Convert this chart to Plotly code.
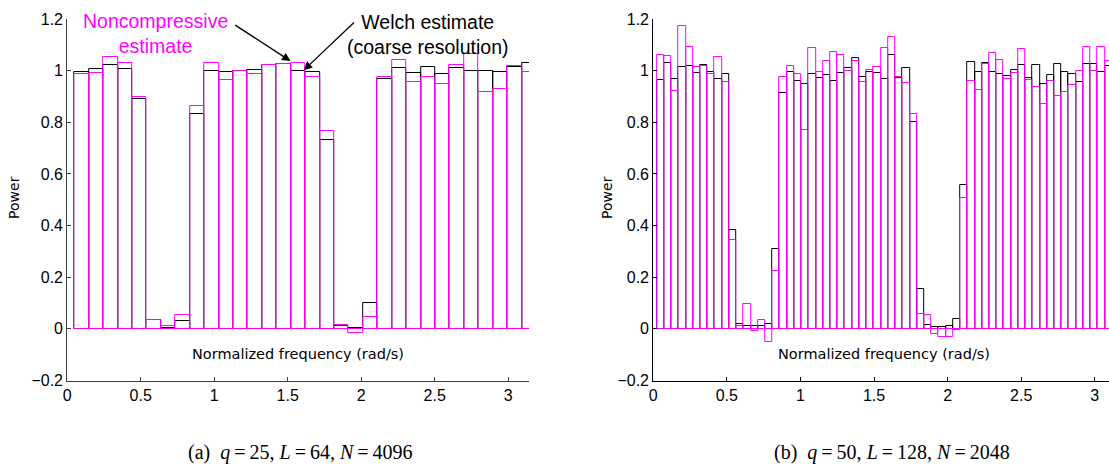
import numpy as np
import plotly.graph_objects as go

# Power spectrum estimates per frequency bin, bins centred at k*pi/M (k = 1..)
# (a) M = 32 bins
welch_a = [0.995, 1.008, 1.022, 1.006, 0.892, 0.035, 0.005, 0.031, 0.831, 0.997,
           0.994, 0.997, 1.001, 1.021, 1.027, 0.999, 0.995, 0.732, 0.012, 0.003,
           0.100, 0.967, 1.012, 0.992, 1.015, 0.988, 1.012, 1.000, 1.000, 0.995,
           1.015, 1.028]
noncomp_a = [0.988, 0.991, 1.051, 1.029, 0.899, 0.036, 0.010, 0.053, 0.862, 1.029,
             0.963, 0.999, 0.986, 1.020, 1.026, 1.029, 0.977, 0.768, 0.014, -0.015,
             0.046, 0.976, 1.041, 0.955, 0.977, 0.947, 1.021, 1.065, 0.919, 0.928,
             1.019, 0.995]

# (b) M = 64 bins (bins shown up to the right edge)
welch_b = [0.962, 1.028, 0.968, 1.015, 1.017, 0.992, 1.023, 0.995, 0.967, 0.986,
           0.381, 0.020, 0.010, 0.010, 0.010, 0.020, 0.310, 0.912, 0.995, 0.958,
           0.950, 0.986, 0.973, 0.982, 0.959, 0.991, 1.011, 1.048, 0.976, 0.994,
           0.991, 0.968, 1.059, 0.972, 1.009, 0.800, 0.153, 0.014, 0.008, 0.008,
           0.010, 0.038, 0.558, 1.034, 0.995, 1.031, 0.995, 0.988, 0.981, 1.001,
           1.023, 0.971, 1.020, 0.949, 0.983, 1.025, 0.996, 0.986, 0.957, 1.027,
           1.027, 0.995, 1.019]
noncomp_b = [1.061, 1.055, 0.921, 1.171, 1.093, 1.013, 1.019, 0.987, 1.051, 0.955,
             0.344, 0.010, 0.097, -0.008, 0.033, -0.051, 0.224, 0.975, 1.017, 0.986,
             0.771, 1.088, 0.996, 1.038, 1.073, 1.061, 0.997, 1.039, 0.955, 1.004,
             1.013, 1.089, 1.130, 0.975, 0.952, 0.832, 0.057, 0.055, -0.019, -0.032,
             -0.031, -0.003, 0.507, 0.960, 0.926, 1.024, 1.068, 1.041, 0.968, 0.991,
             1.084, 0.963, 0.935, 0.871, 0.958, 0.902, 0.918, 0.944, 0.997, 1.090,
             0.997, 1.093, 1.036]

bins_a = 32
bins_b = 64

x_ticks = [0, 0.5, 1, 1.5, 2, 2.5, 3]
y_ticks = [-0.2, 0, 0.2, 0.4, 0.6, 0.8, 1, 1.2]
y_ticklabels = ["\u22120.2", "0", "0.2", "0.4", "0.6", "0.8", "1", "1.2"]

BLACK = "#000000"
MAGENTA = "#FF00FF"
SANS = "Liberation Sans, Arial, Helvetica, sans-serif"
WIDE = "DejaVu Sans, Verdana, sans-serif"
SERIF = "Liberation Serif, Times New Roman, serif"

W, H = 1109, 468

# drawing area of the figure as it appears in the page (pixels)
PAPER_X0, PAPER_W = 3.5, 1105.0
PAPER_Y0, PAPER_H = 9.0, 450.0


def px(xp):
    return (xp - PAPER_X0) / PAPER_W


def py(yp):
    return 1 - (yp - PAPER_Y0) / PAPER_H


def centres(n_vals, n_bins):
    return np.arange(1, n_vals + 1) * np.pi / n_bins


def outline_bars(x, y, color, width, xa, ya, name):
    return go.Bar(
        x=x, y=y, width=width, name=name, xaxis=xa, yaxis=ya,
        marker=dict(color="rgba(0,0,0,0)", line=dict(color=color, width=1)),
        showlegend=False, hoverinfo="skip",
    )


fig = go.Figure()
xa_ = centres(len(welch_a), bins_a)
xb_ = centres(len(welch_b), bins_b)
fig.add_trace(outline_bars(xa_, welch_a, BLACK, np.pi / bins_a, "x", "y", "Welch"))
fig.add_trace(outline_bars(xa_, noncomp_a, MAGENTA, np.pi / bins_a, "x", "y", "Noncompressive"))
fig.add_trace(outline_bars(xb_, welch_b, BLACK, np.pi / bins_b, "x2", "y2", "Welch"))
fig.add_trace(outline_bars(xb_, noncomp_b, MAGENTA, np.pi / bins_b, "x2", "y2", "Noncompressive"))

# axes boxes (pixels)
left_x0, left_x1 = 66.7, 528.5
right_x0 = 652.7
px_per_unit = 147.2
top_px, bot_px = 20.0, 380.7
right_end = PAPER_X0 + PAPER_W

axis_common = dict(
    showgrid=False, zeroline=False, showline=True, ticks="inside", ticklen=4,
    tickfont=dict(family=SANS, size=16, color="#000"),
)

fig.update_layout(
    width=W, height=H, autosize=False,
    margin=dict(l=0, r=0, t=0, b=0),
    paper_bgcolor="white", plot_bgcolor="white",
    barmode="overlay", bargap=0,
    xaxis=dict(domain=[px(left_x0), px(left_x1)], range=[0, np.pi],
               tickvals=x_ticks, linecolor="#404040", tickcolor="#404040",
               anchor="y", **axis_common),
    yaxis=dict(domain=[py(bot_px), py(top_px)], range=[-0.2, 1.2],
               tickvals=y_ticks, ticktext=y_ticklabels, linecolor="#404040",
               tickcolor="#404040", anchor="x", **axis_common),
    xaxis2=dict(domain=[px(right_x0), 1.0],
                range=[0, (right_end - right_x0) / px_per_unit],
                tickvals=x_ticks, linecolor="#000", tickcolor="#000",
                anchor="y2", **axis_common),
    yaxis2=dict(domain=[py(bot_px), py(top_px)], range=[-0.2, 1.2],
                tickvals=y_ticks, ticktext=y_ticklabels, linecolor="#000",
                tickcolor="#000", anchor="x2", **axis_common),
)

ann = []


def text(x, y, s, size=14, color="#000", family=SANS, angle=0):
    ann.append(dict(x=px(x), y=py(y), xref="paper", yref="paper", text=s,
                    showarrow=False, textangle=angle, xanchor="center",
                    yanchor="middle", font=dict(family=family, size=size, color=color)))


# axis titles
text(14, 198, "Power", 14, family=WIDE, angle=-90)
text(607, 198, "Power", 14, family=WIDE, angle=-90)
text(297, 354, "Normalized frequency (rad/s)", 14.5, family=WIDE)
text(884, 354, "Normalized frequency (rad/s)", 14.5, family=WIDE)

# callouts
text(155, 34, "Noncompressive<br>estimate", 19.5, MAGENTA)
text(427, 35, "Welch estimate<br>(coarse resolution)", 19.5)

# arrows pointing at the bars
for head, tail in [((290.0, 62.0), (233.3, 25.0)), ((303.3, 71.0), (355.0, 22.0))]:
    ann.append(dict(x=px(head[0]), y=py(head[1]), xref="paper", yref="paper",
                    ax=tail[0] - head[0], ay=tail[1] - head[1], text="",
                    showarrow=True, arrowhead=2, arrowsize=1.3, arrowwidth=1.3,
                    arrowcolor="#000", standoff=0))

# sub-captions
eq = "\u2009=\u2009"
text(300, 453, f"(a)  <i>q</i>{eq}25, <i>L</i>{eq}64, <i>N</i>{eq}4096", 20, family=SERIF)
text(891, 453, f"(b)  <i>q</i>{eq}50, <i>L</i>{eq}128, <i>N</i>{eq}2048", 20, family=SERIF)

fig.update_layout(annotations=ann)
fig.write_html("out.html")
